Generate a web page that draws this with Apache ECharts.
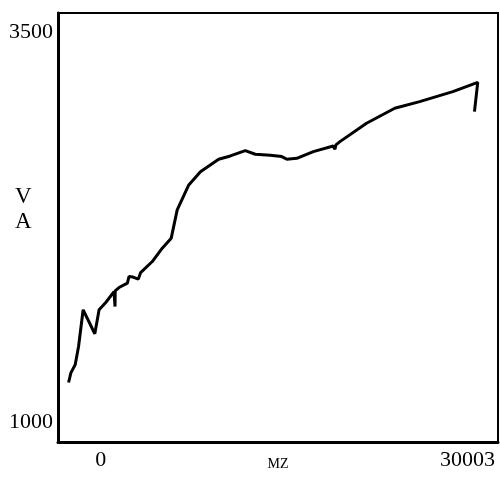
<!DOCTYPE html>
<html>
<head>
<meta charset="utf-8">
<script src="https://cdn.jsdelivr.net/npm/echarts@6/dist/echarts.min.js"></script>
<style>
  html, body { margin: 0; padding: 0; background: #fff; }
  #chart { width: 500px; height: 483px; }
</style>
</head>
<body>
<div id="chart"></div>
<script>
// traced curve: MZ vs VA
const mzValues = [
  -2633, -2446, -2095, -1818, -1443, -489, -139, 408, 1084, 1166, 1182, 1492,
  2177, 2307, 2633, 3074, 3261, 4215, 5030, 5764, 6253, 7199, 8153, 9645,
  10599, 11822, 12637, 13860, 14814, 15222, 16037, 17391, 19021, 19160, 19241,
  19567, 21744, 24051, 26090, 28805, 30843, 30574
]
const vaValues = [
  1252, 1314, 1366, 1483, 1719, 1565, 1719, 1766, 1836, 1740, 1841, 1862,
  1890, 1933, 1929, 1916, 1958, 2029, 2115, 2179, 2361, 2521, 2606, 2686,
  2707, 2741, 2718, 2712, 2703, 2686, 2692, 2735, 2771, 2750, 2778,
  2799, 2917, 3013, 3056, 3120, 3180, 2992
]
const xTicks = [0, 30003]
const yTicks = [1000, 3500]

const points = mzValues.map((x, i) => [x, vaValues[i]])
const serif = '"Liberation Serif", "DejaVu Serif", serif'

const chart = echarts.init(document.getElementById('chart'))
chart.setOption({
  animation: false,
  grid: {
    left: 58, right: 2, top: 13, bottom: 41,
    outerBoundsMode: 'none',
    show: true, borderColor: '#000', borderWidth: 2
  },
  xAxis: {
    type: 'value',
    min: -3500, max: 32500,
    name: 'MZ',
    nameLocation: 'middle',
    nameGap: 15,
    nameMoveOverlap: false,
    nameTextStyle: { fontFamily: serif, fontSize: 14, color: '#000', verticalAlign: 'top' },
    splitLine: { show: false },
    axisTick: { show: false },
    axisLine: { onZero: false, lineStyle: { color: '#000', width: 3 } },
    axisLabel: {
      customValues: xTicks,
      formatter: v => String(v),
      margin: 7,
      fontFamily: serif, fontSize: 22, color: '#000'
    }
  },
  yAxis: {
    type: 'value',
    min: 870, max: 3625,
    splitLine: { show: false },
    axisTick: { show: false },
    axisLine: { onZero: false, lineStyle: { color: '#000', width: 3 } },
    axisLabel: {
      customValues: yTicks,
      formatter: v => String(v),
      margin: 5,
      fontFamily: serif, fontSize: 22, color: '#000'
    }
  },
  graphic: [
    {
      type: 'text', left: 15, top: 184,
      style: { text: 'V\nA', font: '23px ' + serif, fill: '#000', lineHeight: 25, align: 'center' }
    }
  ],
  series: [{
    type: 'line',
    data: points,
    showSymbol: false,
    lineStyle: { color: '#000', width: 3 }
  }]
})
</script>
</body>
</html>
